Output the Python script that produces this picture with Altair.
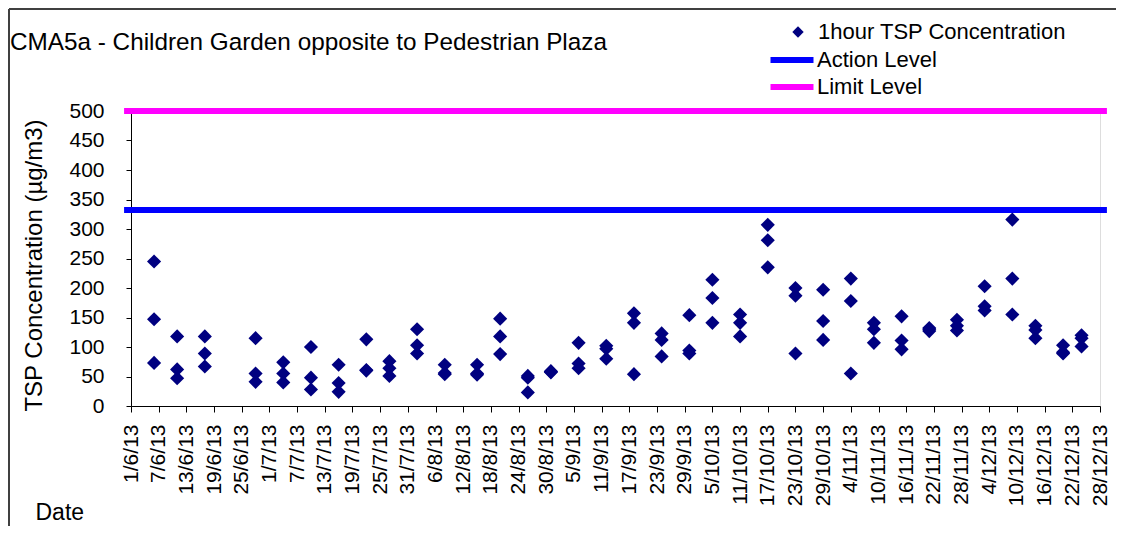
import altair as alt
import pandas as pd

title_text = "CMA5a - Children Garden opposite to Pedestrian Plaza"
tsp_name = "1hour TSP Concentration"

obs_dates = ["6/6/13", "11/6/13", "17/6/13", "28/6/13", "4/7/13", "10/7/13", "16/7/13",
             "22/7/13", "27/7/13", "2/8/13", "8/8/13", "15/8/13", "20/8/13", "26/8/13",
             "31/8/13", "6/9/13", "12/9/13", "18/9/13", "24/9/13", "30/9/13", "5/10/13",
             "11/10/13", "17/10/13", "23/10/13", "29/10/13", "4/11/13", "9/11/13",
             "15/11/13", "21/11/13", "27/11/13", "3/12/13", "9/12/13", "14/12/13",
             "20/12/13", "24/12/13"]
sample_a = [245, 118, 118, 115, 74, 100, 70, 113, 76, 130, 70, 70, 148, 51, 59, 107, 102,
            157, 123, 154, 214, 155, 307, 200, 197, 216, 141, 152, 132, 146, 203, 316, 136,
            103, 120]
sample_b = [147, 62, 89, 55, 55, 48, 39, 60, 64, 103, 56, 53, 118, 48, 57, 72, 97,
            141, 112, 94, 183, 141, 281, 187, 144, 178, 130, 111, 127, 136, 169, 216, 129,
            89, 115]
sample_c = [73, 47, 67, 41, 40, 28, 24, 61, 51, 89, 54, 55, 88, 23, 58, 64, 80,
            54, 84, 89, 141, 118, 235, 89, 112, 55, 107, 96, 130, 128, 162, 155, 115,
            91, 101]

tick_labels = ["1/6/13", "7/6/13", "13/6/13", "19/6/13", "25/6/13", "1/7/13", "7/7/13",
               "13/7/13", "19/7/13", "25/7/13", "31/7/13", "6/8/13", "12/8/13", "18/8/13",
               "24/8/13", "30/8/13", "5/9/13", "11/9/13", "17/9/13", "23/9/13", "29/9/13",
               "5/10/13", "11/10/13", "17/10/13", "23/10/13", "29/10/13", "4/11/13",
               "10/11/13", "16/11/13", "22/11/13", "28/11/13", "4/12/13", "10/12/13",
               "16/12/13", "22/12/13", "28/12/13"]
y_ticks = [0, 50, 100, 150, 200, 250, 300, 350, 400, 450, 500]

level_names = ["Action Level", "Limit Level"]
level_values = [332, 500]
level_start = "30/5/13 12:00"
level_end = "29/12/13 12:00"


def to_ms(s):
    fmt = "%d/%m/%y %H:%M" if ":" in s else "%d/%m/%y"
    return int(pd.to_datetime(s, format=fmt).value // 10**6)


rows = []
for d, a, b, c in zip(obs_dates, sample_a, sample_b, sample_c):
    for v in (a, b, c):
        rows.append({"t": to_ms(d), "v": v, "series": tsp_name})
points = pd.DataFrame(rows)

levels = pd.DataFrame({
    "name": level_names,
    "v": level_values,
    "t0": [to_ms(level_start)] * 2,
    "t1": [to_ms(level_end)] * 2,
})

tick_ms = [to_ms(s) for s in tick_labels]
FONT = "Liberation Sans"
W, H = 969, 295
PAD = {"left": 123, "top": 103, "right": 16, "bottom": 120}

xscale = alt.Scale(type="utc", domain=[tick_ms[0], tick_ms[-1]])
yscale = alt.Scale(domain=[0, 500])

xaxis = alt.Axis(values=tick_ms, labelExpr="utcFormat(datum.value, '%-d/%-m/%y')",
                 labelAngle=-90,
                 labelFontSize=21, labelFont=FONT, labelColor="#000", labelPadding=12,
                 labelOverlap=False, labelFlush=False, labelBound=False,
                 tickSize=6, tickColor="#000", domainColor="#000", grid=False,
                 title="Date", titleFont=FONT, titleFontSize=23, titleFontWeight="normal",
                 titleColor="#000", titleX=-96, titleY=106, titleAlign="left",
                 titleBaseline="middle")
yaxis = alt.Axis(values=y_ticks, labelFontSize=21, labelFont=FONT, labelColor="#000",
                 labelPadding=22, tickSize=5, tickColor="#000", domainColor="#000",
                 grid=False, title="TSP Concentration (µg/m3)", titleFont=FONT,
                 titleFontSize=24, titleFontWeight="normal", titleColor="#000",
                 titleX=-97, titleY=154, titleAngle=270, titleAlign="center",
                 titleBaseline="middle")

one_row = pd.DataFrame({"k": [0]})

frame_left = alt.Chart(one_row).mark_rule(stroke="#404040", strokeWidth=2).encode(
    x=alt.value(-PAD["left"] + 1), y=alt.value(-PAD["top"] + 1),
    y2=alt.value(H + PAD["bottom"])
)
frame_top = alt.Chart(one_row).mark_rule(stroke="#404040", strokeWidth=2).encode(
    x=alt.value(-PAD["left"] + 1), x2=alt.value(W + PAD["right"]),
    y=alt.value(-PAD["top"] + 1)
)

title = alt.Chart(one_row).mark_text(
    align="left", baseline="alphabetic", font=FONT, fontSize=24.3, color="#000"
).encode(x=alt.value(-121), y=alt.value(-61), text=alt.value(title_text))

rules = alt.Chart(levels).mark_rule(strokeWidth=6).encode(
    x=alt.X("t0:T", scale=xscale, axis=xaxis),
    x2="t1:T",
    y=alt.Y("v:Q", scale=yscale, axis=yaxis),
    stroke=alt.Stroke("name:N",
                      scale=alt.Scale(domain=level_names, range=["#0000FF", "#FF00FF"]),
                      legend=alt.Legend(title=None, orient="none", legendX=647, legendY=-65,
                                        symbolType="M-2,0H2", symbolSize=462,
                                        symbolStrokeWidth=6, labelFont=FONT,
                                        labelFontSize=22, labelColor="#000",
                                        labelOffset=11, rowPadding=1, padding=0,
                                        labelLimit=400)),
)

pts = alt.Chart(points).mark_point(shape="diamond", filled=True, size=200, opacity=1).encode(
    x=alt.X("t:T", scale=xscale, axis=xaxis),
    y=alt.Y("v:Q", scale=yscale, axis=yaxis),
    fill=alt.Fill("series:N", scale=alt.Scale(domain=[tsp_name], range=["#000080"]),
                  legend=alt.Legend(title=None, orient="none", legendX=656, legendY=-90,
                                    symbolType="diamond", symbolSize=130,
                                    symbolStrokeWidth=0, labelFont=FONT,
                                    labelFontSize=22, labelColor="#000", labelOffset=9,
                                    padding=0, labelLimit=400)),
)

chart = alt.layer(frame_left, frame_top, title, rules, pts).resolve_legend(
    fill="independent", stroke="independent"
).properties(
    width=W, height=H,
    autosize=alt.AutoSizeParams(type="none"),
    padding=PAD,
).configure_view(stroke=None).configure(background="white")

chart.save("out.html", embed_options={"renderer": "svg", "actions": False})
